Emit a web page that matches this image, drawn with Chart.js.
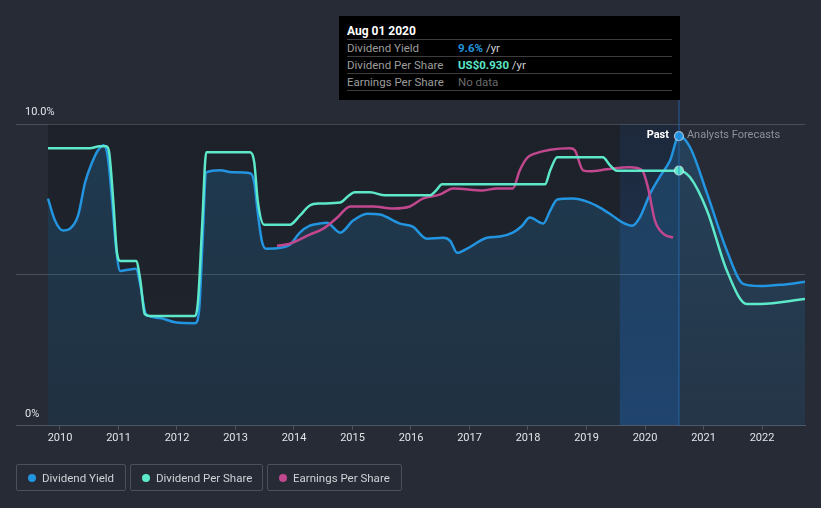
<!DOCTYPE html>
<html>
<head>
<meta charset="utf-8">
<script src="https://cdn.jsdelivr.net/npm/chart.js@4/dist/chart.umd.min.js"></script>
<style>
  html, body { margin: 0; padding: 0; background: #262b36; }
  body { width: 821px; height: 508px; position: relative; overflow: hidden; font-family: Roboto, 'Noto Sans', sans-serif; }
  #chart { position: absolute; left: 0; top: 0; }
  .tip { position: absolute; left: 339px; top: 16px; width: 341px; height: 84px; background: #000; box-sizing: border-box; padding: 0 8px; font-size: 11.5px; }
  .tip-title { height: 24px; box-sizing: border-box; padding-top: 8px; line-height: 14px; border-bottom: 1px solid #3d3d3d; font-weight: bold; font-size: 12px; color: #fff; }
  .row { height: 17px; box-sizing: border-box; line-height: 16px; border-bottom: 1px solid #3d3d3d; color: #9c9c9c; white-space: nowrap; }
  .row .lbl { display: inline-block; width: 111px; }
  .row .unit { color: #d0d0d0; }
  .legend { position: absolute; top: 464px; left: 16px; display: flex; gap: 4px; }
  .item { height: 27px; box-sizing: border-box; border: 1px solid #4b515c; border-radius: 2px; padding: 0 0 0 11px; display: flex; align-items: center; color: #cfd2d6; font-size: 11.5px; white-space: nowrap; }
  .item i { width: 8px; height: 8px; border-radius: 50%; margin-right: 6px; display: inline-block; flex: none; }
</style>
</head>
<body>
<canvas id="chart" width="821" height="508"></canvas>

<div class="tip">
  <div class="tip-title">Aug 01 2020</div>
  <div class="row"><span class="lbl">Dividend Yield</span><b style="color:#2394df">9.6%</b><span class="unit"> /yr</span></div>
  <div class="row"><span class="lbl">Dividend Per Share</span><b style="color:#5de8c9">US$0.930</b><span class="unit"> /yr</span></div>
  <div class="row"><span class="lbl">Earnings Per Share</span><span style="color:#6a6a6a">No data</span></div>
</div>

<div class="legend">
  <div class="item" style="width:110px"><i style="background:#2394df"></i>Dividend Yield</div>
  <div class="item" style="width:133px"><i style="background:#5de8c9"></i>Dividend Per Share</div>
  <div class="item" style="width:135px"><i style="background:#c1478e"></i>Earnings Per Share</div>
</div>

<script>
// axis span and past/forecast split (decimal years)
const axisStart = 2009.248;
const axisEnd = 2022.735;
const startYear = 2009.795; // first data point
const markerYear = 2020.58; // Aug 01 2020, last past value
const bandStart = 2019.57;

const xTickYears = [2010, 2011, 2012, 2013, 2014, 2015, 2016, 2017, 2018, 2019, 2020, 2021, 2022];
const yTicks = [0, 5, 10];
const yTickLabels = { 0: '0%', 10: '10.0%' };

// Dividend Yield (%)
const yieldYears = [2009.795, 2009.915, 2010.05, 2010.17, 2010.31, 2010.43, 2010.55, 2010.65, 2010.75, 2010.82,
  2010.89, 2010.96, 2011.03, 2011.16, 2011.30, 2011.37, 2011.47, 2011.71, 2011.97, 2012.31,
  2012.38, 2012.43, 2012.50, 2012.74, 2012.94, 2013.25, 2013.32, 2013.38, 2013.45, 2013.52,
  2013.76, 2013.93, 2014.10, 2014.27, 2014.44, 2014.56, 2014.79, 2015.01, 2015.25, 2015.47,
  2015.81, 2016.03, 2016.27, 2016.55, 2016.67, 2016.79, 2016.96, 2017.30, 2017.52, 2017.74,
  2017.90, 2018.03, 2018.26, 2018.38, 2018.50, 2018.77, 2019.01, 2019.23, 2019.44, 2019.62,
  2019.78, 2019.91, 2020.09, 2020.26, 2020.43, 2020.58,
  2020.77, 2021.06, 2021.40, 2021.68, 2021.97, 2022.31, 2022.735];
const yieldValues = [7.53, 6.80, 6.47, 6.53, 6.97, 8.07, 8.73, 9.13, 9.30, 8.87,
  7.47, 5.87, 5.13, 5.17, 5.20, 4.70, 3.70, 3.57, 3.43, 3.40,
  3.87, 5.80, 8.40, 8.47, 8.40, 8.37, 8.07, 7.07, 6.13, 5.87,
  5.90, 6.00, 6.40, 6.63, 6.70, 6.73, 6.40, 6.80, 7.03, 7.00,
  6.70, 6.60, 6.20, 6.23, 6.13, 5.73, 5.87, 6.23, 6.27, 6.40,
  6.63, 6.90, 6.70, 7.13, 7.50, 7.53, 7.43, 7.23, 6.97, 6.73,
  6.63, 6.90, 7.70, 8.27, 8.80, 9.60,
  9.23, 7.70, 5.80, 4.70, 4.63, 4.67, 4.77];

// Dividend Per Share (US$)
const dpsYears = [2009.795, 2010.51, 2010.68, 2010.79, 2010.84, 2010.91, 2010.97, 2011.03, 2011.30, 2011.37,
  2011.45, 2011.54, 2012.31, 2012.36, 2012.43, 2012.50, 2013.25, 2013.32, 2013.38, 2013.49,
  2013.93, 2014.10, 2014.27, 2014.44, 2014.79, 2014.92, 2015.04, 2015.30, 2015.56, 2016.32,
  2016.43, 2016.53, 2018.29, 2018.38, 2018.50, 2019.28, 2019.40, 2019.52, 2020.58,
  2020.77, 2021.06, 2021.40, 2021.74, 2021.97, 2022.735];
const dpsValues = [1.012, 1.012, 1.019, 1.019, 0.997, 0.821, 0.638, 0.601, 0.601, 0.535,
  0.407, 0.400, 0.400, 0.455, 0.730, 0.997, 0.997, 0.961, 0.821, 0.733,
  0.733, 0.766, 0.803, 0.810, 0.814, 0.836, 0.851, 0.851, 0.840, 0.840,
  0.858, 0.880, 0.880, 0.931, 0.979, 0.979, 0.950, 0.930, 0.930,
  0.906, 0.785, 0.565, 0.444, 0.444, 0.462];

// Earnings Per Share (US$)
const epsYears = [2013.71, 2013.93, 2014.27, 2014.50, 2014.74, 2014.96, 2015.35, 2015.69, 2015.98, 2016.21,
  2016.50, 2016.72, 2017.23, 2017.47, 2017.74, 2017.86, 2017.98, 2018.09, 2018.72, 2018.80,
  2018.94, 2019.06, 2019.35, 2019.74, 2019.95, 2020.05, 2020.17, 2020.31, 2020.48];
const epsValues = [0.895, 0.905, 0.95, 0.98, 1.035, 1.09, 1.09, 1.08, 1.09, 1.13,
  1.15, 1.18, 1.17, 1.18, 1.18, 1.27, 1.33, 1.35, 1.38, 1.37,
  1.27, 1.265, 1.275, 1.285, 1.27, 1.185, 1.02, 0.955, 0.935];

const BLUE = '#2394df';
const TEAL = '#5de8c9';
const PINK = '#c1478e';

const toPoints = (xs, ys) => xs.map((x, i) => ({ x, y: ys[i] }));
const markerRadius = (ctx) => (ctx.raw && ctx.raw.x === markerYear ? 4.5 : 0);

const backdrop = {
  id: 'backdrop',
  beforeDraw(chart) {
    const { ctx, chartArea: a, scales: { x } } = chart;
    const x0 = x.getPixelForValue(startYear);
    const x1 = x.getPixelForValue(markerYear);
    const xb = x.getPixelForValue(bandStart);
    ctx.save();
    const dark = ctx.createLinearGradient(0, a.top, 0, a.bottom);
    dark.addColorStop(0, '#1d2129');
    dark.addColorStop(1, '#20252e');
    ctx.fillStyle = dark;
    ctx.fillRect(x0, a.top, x1 - x0, a.bottom - a.top);
    const band = ctx.createLinearGradient(0, a.top, 0, a.bottom);
    band.addColorStop(0, 'rgba(30,80,150,0.16)');
    band.addColorStop(1, 'rgba(30,90,170,0.42)');
    ctx.fillStyle = band;
    ctx.fillRect(xb, a.top, x1 - xb, a.bottom - a.top);
    ctx.restore();
  },
  afterDraw(chart) {
    const { ctx, chartArea: a, scales: { x } } = chart;
    const x1 = x.getPixelForValue(markerYear);
    ctx.save();
    ctx.strokeStyle = 'rgba(35,120,210,0.45)';
    ctx.lineWidth = 1.5;
    ctx.beginPath();
    ctx.moveTo(x1, a.top - 24);
    ctx.lineTo(x1, a.bottom);
    ctx.stroke();
    ctx.font = 'bold 11px Roboto, sans-serif';
    ctx.textBaseline = 'middle';
    ctx.textAlign = 'right';
    ctx.fillStyle = '#ffffff';
    ctx.fillText('Past', x1 - 10, a.top + 11);
    ctx.font = '11px Roboto, sans-serif';
    ctx.textAlign = 'left';
    ctx.fillStyle = '#8c929b';
    ctx.fillText('Analysts Forecasts', x1 + 8, a.top + 11);
    ctx.restore();
  },
};

const canvas = document.getElementById('chart');
const fillGradient = (context) => {
  const { chart } = context;
  const a = chart.chartArea;
  if (!a) return 'rgba(35,148,223,0.2)';
  const g = chart.ctx.createLinearGradient(0, a.top, 0, a.bottom);
  g.addColorStop(0, 'rgba(35,148,223,0.22)');
  g.addColorStop(1, 'rgba(35,148,223,0.10)');
  return g;
};

new Chart(canvas, {
  type: 'line',
  data: {
    datasets: [
      {
        label: 'Dividend Per Share',
        data: toPoints(dpsYears, dpsValues),
        yAxisID: 'dps',
        borderColor: TEAL,
        backgroundColor: TEAL,
        borderWidth: 2.5,
        cubicInterpolationMode: 'monotone',
        pointRadius: markerRadius,
        pointBorderColor: 'rgba(255,255,255,0.6)',
        pointBorderWidth: 1.2,
        order: 1,
      },
      {
        label: 'Earnings Per Share',
        data: toPoints(epsYears, epsValues),
        yAxisID: 'eps',
        borderColor: PINK,
        borderWidth: 2.5,
        cubicInterpolationMode: 'monotone',
        pointRadius: 0,
        order: 2,
      },
      {
        label: 'Dividend Yield',
        data: toPoints(yieldYears, yieldValues),
        yAxisID: 'y',
        borderColor: BLUE,
        backgroundColor: fillGradient,
        pointBackgroundColor: BLUE,
        fill: 'origin',
        borderWidth: 2.5,
        cubicInterpolationMode: 'monotone',
        pointRadius: markerRadius,
        pointBorderColor: 'rgba(255,255,255,0.6)',
        pointBorderWidth: 1.2,
        order: 3,
      },
    ],
  },
  options: {
    responsive: false,
    animation: false,
    events: [],
    layout: { padding: { left: 16, right: 16, top: 124, bottom: 61 } },
    plugins: { legend: { display: false }, tooltip: { enabled: false } },
    scales: {
      x: {
        type: 'linear',
        min: axisStart,
        max: axisEnd,
        afterBuildTicks: (axis) => { axis.ticks = xTickYears.map((v) => ({ value: v })); },
        ticks: {
          color: '#e2e4e8',
          font: { family: 'Roboto, sans-serif', size: 11 },
          padding: 2,
          maxRotation: 0,
          callback: (v) => String(v),
        },
        grid: { drawOnChartArea: false, drawTicks: true, tickLength: 4, color: '#4f5663' },
        border: { color: '#4f5663', width: 1 },
      },
      y: {
        min: 0,
        max: 10,
        afterBuildTicks: (axis) => { axis.ticks = yTicks.map((v) => ({ value: v })); },
        afterFit: (axis) => { axis.width = 0; },
        ticks: {
          mirror: true,
          padding: 9,
          labelOffset: -12,
          color: '#e2e4e8',
          font: { family: 'Roboto, sans-serif', size: 11 },
          callback: (v) => yTickLabels[v] || '',
        },
        grid: { color: 'rgba(255,255,255,0.17)', drawTicks: false },
        border: { display: false },
      },
      dps: { display: false, min: 0, max: 1.1 },
      eps: { display: false, min: 0, max: 1.5 },
    },
  },
  plugins: [backdrop],
});
</script>
</body>
</html>
